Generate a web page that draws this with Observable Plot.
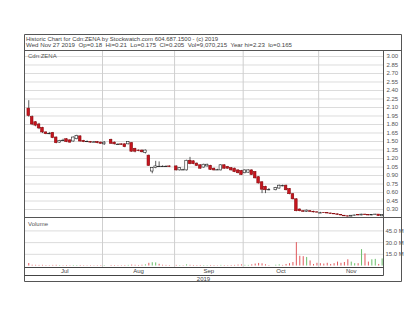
<!DOCTYPE html>
<html><head><meta charset="utf-8">
<script src="https://cdn.jsdelivr.net/npm/d3@7"></script>
<script src="https://cdn.jsdelivr.net/npm/@observablehq/plot@0.6"></script>
<style>
body{margin:0;background:#fff;}
#root{position:relative;width:420px;height:322px;font-family:"Liberation Sans",Arial,sans-serif;overflow:hidden;}
</style></head><body><div id="root"></div>
<script>
// ---- data ----
const dates = [
"2019-07-02","2019-07-03","2019-07-04","2019-07-05","2019-07-08","2019-07-09","2019-07-10","2019-07-11","2019-07-12","2019-07-15","2019-07-16","2019-07-17","2019-07-18","2019-07-19","2019-07-22","2019-07-23","2019-07-24","2019-07-25","2019-07-26","2019-07-29","2019-07-30","2019-07-31",
"2019-08-01","2019-08-02","2019-08-06","2019-08-07","2019-08-08","2019-08-09","2019-08-12","2019-08-13","2019-08-14","2019-08-15","2019-08-16","2019-08-19","2019-08-20","2019-08-21","2019-08-22","2019-08-23","2019-08-26","2019-08-27","2019-08-28","2019-08-29","2019-08-30",
"2019-09-03","2019-09-04","2019-09-05","2019-09-06","2019-09-09","2019-09-10","2019-09-11","2019-09-12","2019-09-13","2019-09-16","2019-09-17","2019-09-18","2019-09-19","2019-09-20","2019-09-23","2019-09-24","2019-09-25","2019-09-26","2019-09-27","2019-09-30",
"2019-10-01","2019-10-02","2019-10-03","2019-10-04","2019-10-07","2019-10-08","2019-10-09","2019-10-10","2019-10-11","2019-10-15","2019-10-16","2019-10-17","2019-10-18","2019-10-21","2019-10-22","2019-10-23","2019-10-24","2019-10-25","2019-10-28","2019-10-29","2019-10-30","2019-10-31",
"2019-11-01","2019-11-04","2019-11-05","2019-11-06","2019-11-07","2019-11-08","2019-11-11","2019-11-12","2019-11-13","2019-11-14","2019-11-15","2019-11-18","2019-11-19","2019-11-20","2019-11-21","2019-11-22","2019-11-25","2019-11-26","2019-11-27"];

const open = [2.08,1.93,1.84,1.80,1.74,1.66,1.64,1.65,1.57,1.48,1.52,1.54,1.52,1.50,1.54,1.59,1.51,1.50,1.49,1.49,1.49,1.48,
1.45,null,1.53,1.48,1.45,1.45,1.45,1.45,1.47,1.37,1.34,1.34,1.30,1.25,0.97,1.03,1.06,1.06,1.06,1.06,null,
1.06,0.99,1.00,0.99,1.16,1.15,1.11,1.08,1.04,1.06,1.07,1.02,1.00,0.99,1.08,1.05,1.03,1.02,0.99,0.98,
0.94,0.95,0.99,0.96,0.87,0.78,0.70,0.65,null,0.64,0.67,0.72,0.72,0.66,0.57,0.48,0.30,0.27,0.26,0.27,0.26,0.25,
0.24,0.24,0.235,0.23,0.22,0.215,0.205,0.19,0.18,0.175,0.19,0.20,0.195,0.21,0.20,0.195,0.20,0.21,0.18];
const high = [2.22,1.95,1.85,1.82,1.75,1.67,1.66,1.66,1.58,1.52,1.54,1.55,1.53,1.58,1.61,1.60,1.52,1.51,1.50,1.50,1.50,1.49,
1.50,null,1.54,1.49,1.46,1.46,1.46,1.50,1.48,1.38,1.35,1.35,1.35,1.26,1.04,1.15,1.14,1.07,1.07,1.07,null,
1.07,1.04,1.01,1.17,1.22,1.16,1.12,1.09,1.10,1.10,1.08,1.03,1.01,1.09,1.09,1.06,1.04,1.03,1.00,0.99,
1.00,1.00,1.00,0.97,0.88,0.79,0.71,0.67,null,0.69,0.73,0.73,0.73,0.67,0.58,0.49,0.31,0.28,0.29,0.28,0.27,0.26,
0.25,0.245,0.24,0.235,0.225,0.22,0.21,0.195,0.185,0.195,0.20,0.20,0.215,0.215,0.205,0.21,0.215,0.21,0.21];
const low = [1.93,1.78,1.76,1.71,1.64,1.62,1.62,1.55,1.46,1.47,1.50,1.48,1.47,1.49,1.53,1.49,1.48,1.48,1.47,1.48,1.46,1.45,
1.43,null,1.45,1.44,1.44,1.43,1.39,1.44,1.31,1.30,1.32,1.30,1.28,1.06,0.93,1.02,1.05,1.05,1.05,1.04,null,
0.98,0.98,0.99,0.98,1.09,1.09,1.06,1.01,1.03,1.05,0.99,0.98,0.99,0.98,1.01,1.01,0.98,0.95,0.93,0.90,
0.93,0.94,0.90,0.84,0.75,0.58,0.58,0.63,null,0.63,0.66,0.70,0.63,0.56,0.47,0.26,0.26,0.25,0.25,0.25,0.24,0.24,
0.23,0.23,0.225,0.22,0.21,0.20,0.19,0.175,0.165,0.17,0.185,0.19,0.19,0.195,0.19,0.19,0.195,0.18,0.175];
const close = [1.95,1.80,1.78,1.73,1.66,1.63,1.64,1.56,1.47,1.51,1.52,1.49,1.48,1.57,1.60,1.50,1.49,1.50,1.48,1.49,1.47,1.46,
1.48,null,1.46,1.45,1.45,1.44,1.40,1.49,1.32,1.32,1.33,1.31,1.34,1.07,1.03,1.06,1.06,1.06,1.06,1.05,null,
0.99,1.03,1.00,1.16,1.10,1.10,1.07,1.02,1.09,1.09,1.00,0.99,1.00,1.08,1.02,1.02,0.99,0.96,0.94,0.91,
0.99,0.99,0.91,0.85,0.76,0.65,0.64,0.65,null,0.68,0.72,0.72,0.64,0.57,0.48,0.27,0.27,0.26,0.28,0.26,0.25,0.245,
0.24,0.235,0.23,0.22,0.215,0.205,0.195,0.18,0.175,0.19,0.195,0.195,0.21,0.20,0.195,0.205,0.21,0.185,0.205];
// volume in millions of shares
const volume = [3.2,1.0,0.9,0.8,0.9,0.6,0.5,0.8,0.9,0.6,0.5,0.6,0.5,0.7,0.6,0.7,0.5,0.4,0.5,0.4,0.5,0.6,
0.6,null,0.7,0.6,0.5,0.5,0.7,0.8,1.2,0.9,0.7,1.0,1.5,3.5,4.2,4.0,2.2,1.0,0.8,0.6,null,
0.8,0.6,0.5,1.5,0.9,0.7,0.6,0.7,0.6,0.5,0.7,0.6,0.4,0.8,0.6,0.5,0.7,0.8,1.2,1.5,
0.9,0.8,1.5,2.5,3.3,2.8,1.6,0.6,null,1.0,1.5,0.8,2.0,3.0,4.5,30.0,12.5,12.0,11.0,6.5,2.0,3.5,
3.0,2.5,3.5,2.0,3.0,5.0,3.5,4.5,8.0,5.0,3.0,3.0,21.0,15.5,5.0,8.0,8.5,2.0,9.07];

const priceTicks = [0.30,0.45,0.60,0.75,0.90,1.05,1.20,1.35,1.50,1.65,1.80,1.95,2.10,2.25,2.40,2.55,2.70,2.85,3.00];
const volumeTicks = [15,30,45];
const monthNames = ["Jul","Aug","Sep","Oct","Nov"];

const titleLine1 = "Historic Chart for Cdn:ZENA by Stockwatch.com 604.687.1500 - (c) 2019";
const titleLine2 = "Wed Nov 27 2019  Op=0.18  Hi=0.21  Lo=0.175  Cl=0.205  Vol=9,070,215  Year hi=2.23  lo=0.165";
const symbolLabel = "Cdn:ZENA";
const volumeLabel = "Volume";
const yearLabel = "2019";

// ---- derived tables ----
const all = dates.map((d,i)=>({i, date:d, month:+d.slice(5,7), open:open[i], high:high[i], low:low[i], close:close[i], vol:volume[i]}));
const days = all.filter(d=>d.open!=null);
const bodies = days.filter(d=>d.open!==d.close);
const dojis = days.filter(d=>d.open===d.close);
const months = d3.groups(all, d=>d.month).map(([m,arr])=>({m, first:arr[0].i, center:(arr[0].i+arr[arr.length-1].i)/2}));
months.forEach((m,k)=>m.name=monthNames[k]);
const dividers = months.slice(1).map(m=>m.first-0.5);

const RED="#c8141e", RED_D="#8c0c10", UPC="#222";
const VRED="#e0585c", VGREEN="#6cbf6c";
const xDomain=[-1.24,103.4];
const W=394, MR=35;
const FONT='"Liberation Sans", Arial, sans-serif';

const root=document.getElementById("root");
function place(node,left,top){node.style.position="absolute";node.style.left=left+"px";node.style.top=top+"px";node.style.overflow="visible";root.appendChild(node);}

const pricePlot = Plot.plot({
  width:W, height:166, marginLeft:0, marginRight:MR, marginTop:0, marginBottom:0,
  x:{domain:xDomain, axis:null},
  y:{domain:[0.159,3.088], axis:null},
  style:{background:"transparent", fontFamily:FONT, fontSize:"6px", color:"#555"},
  marks:[
    Plot.ruleY(priceTicks,{stroke:"#dcdcdc", strokeOpacity:1}),
    Plot.ruleX(dividers,{stroke:"#cfcfcf", strokeOpacity:1}),
    Plot.axisY(priceTicks,{anchor:"right", tickSize:0, tickPadding:3, tickFormat:d=>d.toFixed(2), label:null, fill:"#555"}),
    Plot.ruleX(days,{x:"i", y1:"low", y2:"high", stroke:"#333", strokeWidth:0.8}),
    Plot.rect(bodies,{x1:d=>d.i-0.38, x2:d=>d.i+0.38, y1:"open", y2:"close",
      fill:d=>d.close>d.open?"#fff":RED, stroke:d=>d.close>d.open?UPC:RED_D, strokeWidth:0.6}),
    Plot.ruleY(dojis,{x1:d=>d.i-0.5, x2:d=>d.i+0.5, y:"close", stroke:"#222"})
  ]
});
place(pricePlot,24,51);

const volPlot = Plot.plot({
  width:W, height:50, marginLeft:0, marginRight:MR, marginTop:0, marginBottom:0,
  x:{domain:xDomain, axis:null},
  y:{domain:[-1.9,62.2], axis:null},
  style:{background:"transparent", fontFamily:FONT, fontSize:"6px", color:"#555"},
  marks:[
    Plot.ruleY(volumeTicks,{stroke:"#dcdcdc"}),
    Plot.ruleX(dividers,{stroke:"#cfcfcf"}),
    Plot.axisY(volumeTicks,{anchor:"right", tickSize:0, tickPadding:2, tickFormat:d=>d.toFixed(1)+" M", label:null, fill:"#555"}),
    Plot.ruleX(days,{x:"i", y1:0, y2:"vol", stroke:d=>d.close>d.open?VGREEN:VRED, strokeWidth:1})
  ]
});
place(volPlot,24,217);

const axisPlot = Plot.plot({
  width:W, height:8, marginLeft:0, marginRight:MR, marginTop:0, marginBottom:0,
  x:{domain:xDomain, axis:null},
  style:{background:"transparent", fontFamily:FONT, fontSize:"6px", color:"#444"},
  marks:[
    Plot.text(months,{x:"center", text:"name", frameAnchor:"middle", fill:"#444"})
  ]
});
place(axisPlot,24,267);

// ---- frame & header overlay ----
const ov=d3.select(root).append("svg").attr("width",420).attr("height",322)
  .style("position","absolute").style("left","0px").style("top","0px").style("font-family",FONT);
function line(x1,y1,x2,y2,c="#555",w=1){ov.append("line").attr("x1",x1).attr("y1",y1).attr("x2",x2).attr("y2",y2).attr("stroke",c).attr("stroke-width",w);}
line(24.5,34.5,401.5,34.5);
line(24.5,281.5,401.5,281.5);
line(24.5,34.5,24.5,281.5);
line(401.5,34.5,401.5,281.5);
line(24.5,50.5,401.5,50.5);
line(24.5,217.5,401.5,217.5);
line(383.5,50.5,383.5,275.5);
line(24.5,267.5,383.5,267.5,"#444");
line(24.5,275.5,383.5,275.5,"#444");

function txt(s,x,y,opts={}){const t=ov.append("text").attr("x",x).attr("y",y).attr("font-size",opts.size||6).attr("fill",opts.fill||"#555").style("white-space","pre").text(s);
  if(opts.len) t.attr("textLength",opts.len).attr("lengthAdjust","spacingAndGlyphs");
  if(opts.anchor) t.attr("text-anchor",opts.anchor); return t;}
txt(titleLine1,26,40.5,{len:192,fill:"#444"});
txt(titleLine2,26,47,{len:266,fill:"#444"});
txt(symbolLabel,28,57.5,{fill:"#555"});
txt(volumeLabel,28,226,{fill:"#555"});
txt(yearLabel,203.5,280.5,{anchor:"middle",fill:"#444"});
</script></body></html>
